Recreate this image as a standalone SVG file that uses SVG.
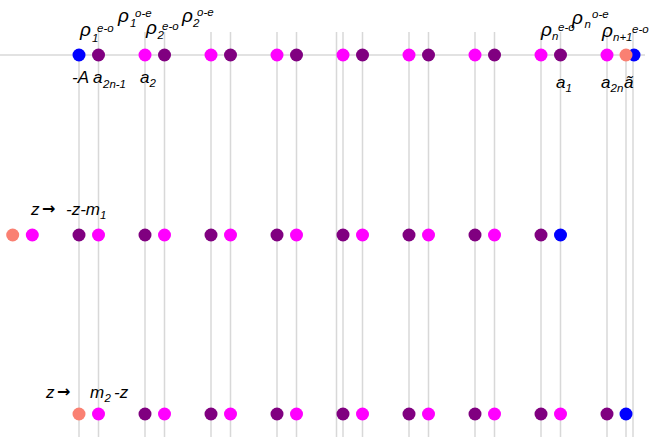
<svg xmlns="http://www.w3.org/2000/svg" width="654" height="437" viewBox="0 0 654 437">
<style>
.grid{stroke:#d8d8d8;stroke-width:1.5;fill:none}
.t{font-family:"Liberation Sans",Arial,sans-serif;font-style:italic;font-size:17px;fill:#000}
.s{font-size:11.5px}
.rho{font-size:19px}
.ar{font-family:"DejaVu Sans","Liberation Sans",sans-serif;font-style:normal;font-size:16px;font-weight:bold}
.b{fill:#0000ff}.p{fill:#800080}.m{fill:#ff00ff}.r{fill:#fa8072}
</style>
<rect width="654" height="437" fill="#fff"/>
<g id="connectors">
<line class="grid" x1="0" y1="55" x2="645" y2="55"/>
<line class="grid" x1="79" y1="55" x2="79" y2="437"/>
<line class="grid" x1="98.5" y1="32" x2="98.5" y2="437"/>
<line class="grid" x1="145" y1="32" x2="145" y2="437"/>
<line class="grid" x1="164.5" y1="32" x2="164.5" y2="437"/>
<line class="grid" x1="211" y1="32" x2="211" y2="437"/>
<line class="grid" x1="230.5" y1="32" x2="230.5" y2="437"/>
<line class="grid" x1="277" y1="32" x2="277" y2="437"/>
<line class="grid" x1="296.5" y1="32" x2="296.5" y2="437"/>
<line class="grid" x1="336.5" y1="32" x2="336.5" y2="437"/>
<line class="grid" x1="343" y1="32" x2="343" y2="437"/>
<line class="grid" x1="362.5" y1="32" x2="362.5" y2="437"/>
<line class="grid" x1="409" y1="32" x2="409" y2="437"/>
<line class="grid" x1="428.5" y1="32" x2="428.5" y2="437"/>
<line class="grid" x1="475" y1="32" x2="475" y2="437"/>
<line class="grid" x1="494.5" y1="32" x2="494.5" y2="437"/>
<line class="grid" x1="541" y1="32" x2="541" y2="437"/>
<line class="grid" x1="560.5" y1="32" x2="560.5" y2="437"/>
<line class="grid" x1="607" y1="32" x2="607" y2="437"/>
<line class="grid" x1="626" y1="55" x2="626" y2="437"/>
<line class="grid" x1="633" y1="32" x2="633" y2="437"/>
</g>
<g id="row1">
<circle class="b" cx="79" cy="55" r="6.5"/><circle class="p" cx="98.5" cy="55" r="6.5"/>
<circle class="m" cx="145" cy="55" r="6.5"/><circle class="p" cx="164.5" cy="55" r="6.5"/>
<circle class="m" cx="211" cy="55" r="6.5"/><circle class="p" cx="230.5" cy="55" r="6.5"/>
<circle class="m" cx="277" cy="55" r="6.5"/><circle class="p" cx="296.5" cy="55" r="6.5"/>
<circle class="m" cx="343" cy="55" r="6.5"/><circle class="p" cx="362.5" cy="55" r="6.5"/>
<circle class="m" cx="409" cy="55" r="6.5"/><circle class="p" cx="428.5" cy="55" r="6.5"/>
<circle class="m" cx="475" cy="55" r="6.5"/><circle class="p" cx="494.5" cy="55" r="6.5"/>
<circle class="m" cx="541" cy="55" r="6.5"/><circle class="p" cx="560.5" cy="55" r="6.5"/>
<circle class="m" cx="607" cy="55" r="6.5"/>
<circle class="b" cx="634" cy="55" r="6.5"/><circle class="r" cx="626" cy="55" r="6.5"/>
</g>
<g id="row2">
<circle class="r" cx="12.7" cy="235" r="6.5"/><circle class="m" cx="32.3" cy="235" r="6.5"/>
<circle class="p" cx="79" cy="235" r="6.5"/><circle class="m" cx="98.5" cy="235" r="6.5"/>
<circle class="p" cx="145" cy="235" r="6.5"/><circle class="m" cx="164.5" cy="235" r="6.5"/>
<circle class="p" cx="211" cy="235" r="6.5"/><circle class="m" cx="230.5" cy="235" r="6.5"/>
<circle class="p" cx="277" cy="235" r="6.5"/><circle class="m" cx="296.5" cy="235" r="6.5"/>
<circle class="p" cx="343" cy="235" r="6.5"/><circle class="m" cx="362.5" cy="235" r="6.5"/>
<circle class="p" cx="409" cy="235" r="6.5"/><circle class="m" cx="428.5" cy="235" r="6.5"/>
<circle class="p" cx="475" cy="235" r="6.5"/><circle class="m" cx="494.5" cy="235" r="6.5"/>
<circle class="p" cx="541" cy="235" r="6.5"/><circle class="b" cx="560.5" cy="235" r="6.5"/>
</g>
<g id="row3">
<circle class="r" cx="79" cy="414" r="6.5"/><circle class="m" cx="98.5" cy="414" r="6.5"/>
<circle class="p" cx="145" cy="414" r="6.5"/><circle class="m" cx="164.5" cy="414" r="6.5"/>
<circle class="p" cx="211" cy="414" r="6.5"/><circle class="m" cx="230.5" cy="414" r="6.5"/>
<circle class="p" cx="277" cy="414" r="6.5"/><circle class="m" cx="296.5" cy="414" r="6.5"/>
<circle class="p" cx="343" cy="414" r="6.5"/><circle class="m" cx="362.5" cy="414" r="6.5"/>
<circle class="p" cx="409" cy="414" r="6.5"/><circle class="m" cx="428.5" cy="414" r="6.5"/>
<circle class="p" cx="475" cy="414" r="6.5"/><circle class="m" cx="494.5" cy="414" r="6.5"/>
<circle class="p" cx="541" cy="414" r="6.5"/><circle class="m" cx="560.5" cy="414" r="6.5"/>
<circle class="p" cx="607" cy="414" r="6.5"/><circle class="b" cx="626" cy="414" r="6.5"/>
</g>
<g id="labels-top">
<text class="t" x="80" y="35.5"><tspan class="rho">ρ</tspan><tspan class="s" x="92" y="42">1</tspan><tspan class="s" x="97" y="32">e-o</tspan></text>
<text class="t" x="118" y="22"><tspan class="rho">ρ</tspan><tspan class="s" x="130" y="27">1</tspan><tspan class="s" x="135" y="17">o-e</tspan></text>
<text class="t" x="146" y="34"><tspan class="rho">ρ</tspan><tspan class="s" x="157.5" y="39">2</tspan><tspan class="s" x="162" y="30">e-o</tspan></text>
<text class="t" x="182" y="22"><tspan class="rho">ρ</tspan><tspan class="s" x="193" y="27">2</tspan><tspan class="s" x="197" y="16">o-e</tspan></text>
<text class="t" x="541" y="36"><tspan class="rho">ρ</tspan><tspan class="s" x="552" y="40">n</tspan><tspan class="s" x="558" y="31">e-o</tspan></text>
<text class="t" x="572" y="24"><tspan class="rho">ρ</tspan><tspan class="s" x="584.5" y="28">n</tspan><tspan class="s" x="592" y="18">o-e</tspan></text>
<text class="t" x="602" y="37"><tspan class="rho">ρ</tspan><tspan class="s" x="613" y="41">n+1</tspan><tspan class="s" x="632" y="33">e-o</tspan></text>
</g>
<g id="labels-bottom">
<text class="t" x="72" y="83">-A</text>
<text class="t" x="93" y="83">a<tspan class="s" x="103" y="88">2n-1</tspan></text>
<text class="t" x="140" y="83">a<tspan class="s" x="149.5" y="87">2</tspan></text>
<text class="t" x="556" y="88">a<tspan class="s" x="565.5" y="92">1</tspan></text>
<text class="t" x="601" y="88">a<tspan class="s" x="610.5" y="92">2n</tspan><tspan x="624" y="88">ã</tspan></text>
</g>
<g id="map1">
<text class="t" x="31" y="215">z</text>
<text class="t ar" x="42" y="214">→</text>
<text class="t" x="66" y="215">-z-m<tspan class="s" x="100" y="219">1</tspan></text>
</g>
<g id="map2">
<text class="t" x="46" y="398">z</text>
<text class="t ar" x="57" y="397">→</text>
<text class="t" x="90" y="398">m<tspan class="s" x="104.5" y="402">2</tspan><tspan x="114" y="398">-z</tspan></text>
</g>
</svg>
